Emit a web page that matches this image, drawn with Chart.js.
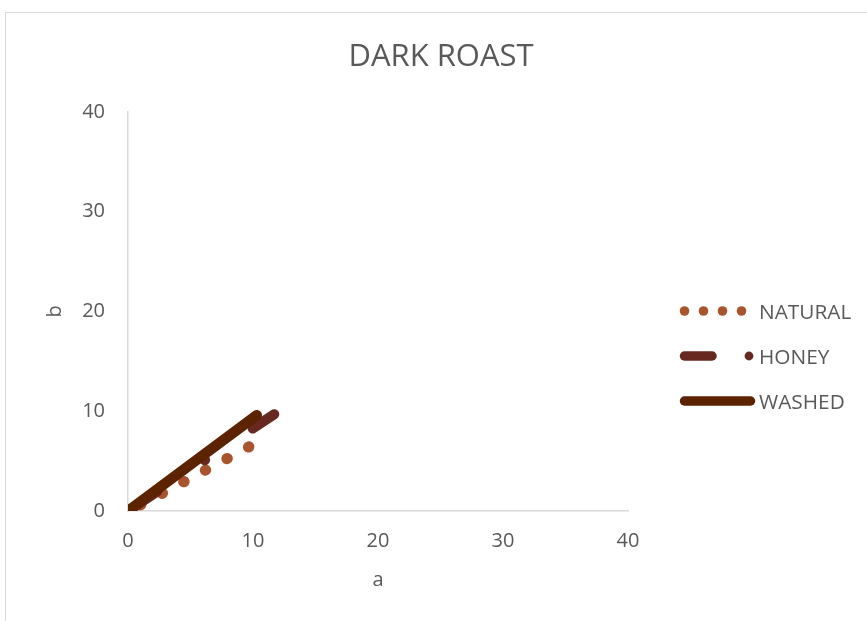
<!DOCTYPE html>
<html>
<head>
<meta charset="utf-8">
<script src="https://cdn.jsdelivr.net/npm/chart.js@4.4.1/dist/chart.umd.min.js"></script>
<style>
  html, body { margin: 0; padding: 0; background: #ffffff; }
  body { width: 867px; height: 621px; position: relative; overflow: hidden; font-family: "Open Sans", sans-serif; }
  #frame { position: absolute; left: 5px; top: 12px; width: 900px; height: 700px; border: 1px solid #d9d9d9; box-sizing: border-box; }
  #c { position: absolute; left: 0; top: 0; }
  .lg { position: absolute; left: 672px; height: 24px; display: flex; align-items: center; }
  .lg canvas { display: block; }
  .lg span { font-family: "Open Sans", sans-serif; font-size: 20.8px; color: #595959; margin-left: 2px; line-height: 24px; }
</style>
</head>
<body>
<div id="frame"></div>
<canvas id="c" width="867" height="621"></canvas>
<div id="legend"></div>
<script>
// ---- data ----
const seriesNames = ["NATURAL", "HONEY", "WASHED"];
const naturalA = [1.0, 9.7];
const naturalB = [0.6, 6.45];
const honeyA = [0.0, 11.7];
const honeyB = [0.0, 9.7];
const washedA = [0.0, 10.3];
const washedB = [0.0, 9.6];
const xTicks = [0, 10, 20, 30, 40];
const yTicks = [0, 10, 20, 30, 40];

const colors = ["#A8552E", "#66281F", "#5C2300"];
const textColor = "#595959";

function pts(a, b) { return a.map((v, i) => ({ x: v, y: b[i] })); }

const ctx = document.getElementById('c').getContext('2d');
new Chart(ctx, {
  type: 'scatter',
  data: {
    datasets: [
      { label: seriesNames[0], data: pts(naturalA, naturalB), showLine: true, borderColor: colors[0], backgroundColor: colors[0],
        borderWidth: 11, borderDash: [0.5, 24], borderCapStyle: 'round', pointRadius: 0, order: 3 },
      { label: seriesNames[1], data: pts(honeyA, honeyB), showLine: true, borderColor: colors[1], backgroundColor: colors[1],
        borderWidth: 10, borderDash: [35, 57, 0.5, 57], borderCapStyle: 'round', pointRadius: 0, order: 2 },
      { label: seriesNames[2], data: pts(washedA, washedB), showLine: true, borderColor: colors[2], backgroundColor: colors[2],
        borderWidth: 10.5, borderCapStyle: 'round', pointRadius: 0, order: 1 }
    ]
  },
  options: {
    responsive: false,
    animation: false,
    layout: { padding: { left: 15, top: 0, right: 0, bottom: 0 } },
    plugins: {
      legend: { display: false },
      tooltip: { enabled: false },
      title: {
        display: true, text: 'DARK ROAST', color: textColor,
        font: { family: 'Open Sans', size: 31, weight: 'normal' },
        padding: { top: 38.4, bottom: 36.4 }
      }
    },
    scales: {
      x: {
        type: 'linear', position: 'bottom', min: 0, max: 40,
        afterBuildTicks: s => { s.ticks = xTicks.map(v => ({ value: v })); },
        ticks: { color: textColor, font: { family: 'Open Sans', size: 20 }, padding: 18 },
        grid: { display: false, drawTicks: false },
        border: { display: true, color: '#d9d9d9', width: 1.5 },
        title: { display: true, text: 'a', color: textColor, font: { family: 'Open Sans', size: 20 }, padding: { top: 0, bottom: 29 } },
        afterFit: s => { s.height = 110; }
      },
      y: {
        type: 'linear', position: 'left', min: 0, max: 40,
        afterBuildTicks: s => { s.ticks = yTicks.map(v => ({ value: v })); },
        ticks: { color: textColor, font: { family: 'Open Sans', size: 20 }, padding: 23 },
        grid: { display: false, drawTicks: false },
        border: { display: true, color: '#d9d9d9', width: 1.5 },
        title: { display: true, text: 'b', color: textColor, font: { family: 'Open Sans', size: 20 }, padding: { top: 28, bottom: 0 } },
        afterFit: s => { s.width = 113; }
      },
      yRight: {
        type: 'linear', position: 'right', min: 0, max: 40, display: true,
        ticks: { display: false }, grid: { display: false, drawTicks: false }, border: { display: false },
        afterFit: s => { s.width = 239; }
      }
    }
  }
});

// ---- legend (HTML, with drawn line samples) ----
const legendRows = [311, 356, 401];
const legendEl = document.getElementById('legend');
seriesNames.forEach((name, i) => {
  const row = document.createElement('div');
  row.className = 'lg';
  row.style.top = (legendRows[i] - 12) + 'px';
  const cv = document.createElement('canvas');
  cv.width = 85; cv.height = 24;
  const g = cv.getContext('2d');
  g.strokeStyle = colors[i]; g.fillStyle = colors[i]; g.lineCap = 'round';
  const cy = 12;
  if (i === 0) {
    [12.5, 31.5, 50.5, 69.5].forEach(x => { g.beginPath(); g.arc(x, cy, 4.8, 0, Math.PI * 2); g.fill(); });
  } else if (i === 1) {
    g.lineWidth = 9.5; g.beginPath(); g.moveTo(12.5, cy); g.lineTo(40, cy); g.stroke();
    g.beginPath(); g.arc(77, cy, 4.4, 0, Math.PI * 2); g.fill();
  } else {
    g.lineWidth = 9.5; g.beginPath(); g.moveTo(12.5, cy); g.lineTo(78.5, cy); g.stroke();
  }
  const sp = document.createElement('span');
  sp.textContent = name;
  row.appendChild(cv); row.appendChild(sp);
  legendEl.appendChild(row);
});
</script>
</body>
</html>
